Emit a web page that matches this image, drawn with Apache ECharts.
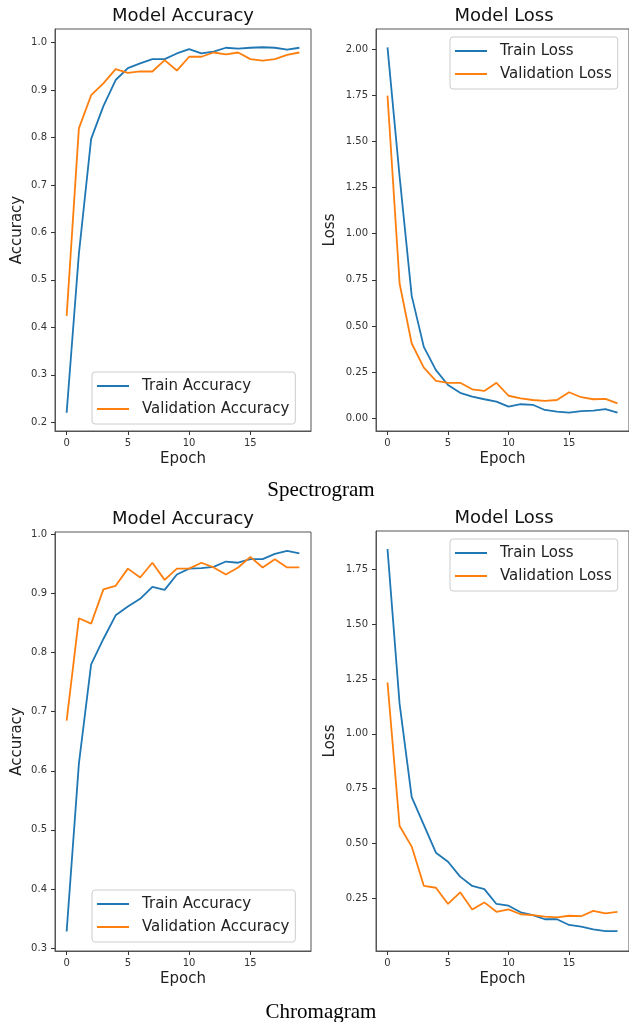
<!DOCTYPE html>
<html>
<head>
<meta charset="utf-8">
<script src="https://cdn.jsdelivr.net/npm/echarts@6/dist/echarts.min.js"></script>
<style>
  html, body { margin: 0; padding: 0; background: #fff; }
  #main { width: 629px; height: 1022px; }
</style>
</head>
<body>
<div id="main"></div>
<script>
// epochs on the x axis
const epochs = [0, 1, 2, 3, 4, 5, 6, 7, 8, 9, 10, 11, 12, 13, 14, 15, 16, 17, 18, 19]

// Spectrogram
const specTrainAcc = [0.22, 0.555, 0.797, 0.866, 0.921, 0.946, 0.956, 0.965, 0.965, 0.977,
  0.986, 0.977, 0.981, 0.989, 0.987, 0.989, 0.990, 0.989, 0.985, 0.989]
const specValAcc = [0.424, 0.819, 0.889, 0.914, 0.944, 0.936, 0.939, 0.939, 0.963, 0.941,
  0.970, 0.970, 0.979, 0.975, 0.979, 0.965, 0.962, 0.965, 0.974, 0.979]
const specTrainLoss = [2.009, 1.31, 0.663, 0.387, 0.261, 0.18, 0.138, 0.117, 0.103, 0.09,
  0.063, 0.076, 0.073, 0.045, 0.036, 0.03, 0.039, 0.041, 0.05, 0.03]
const specValLoss = [1.748, 0.73, 0.405, 0.274, 0.203, 0.192, 0.192, 0.157, 0.148, 0.192,
  0.122, 0.108, 0.099, 0.094, 0.099, 0.141, 0.114, 0.103, 0.105, 0.081]

// Chromagram
const chromaTrainAcc = [0.328, 0.612, 0.780, 0.823, 0.863, 0.878, 0.891, 0.911, 0.906, 0.932,
  0.942, 0.943, 0.945, 0.954, 0.952, 0.958, 0.958, 0.967, 0.972, 0.968]
const chromaValAcc = [0.685, 0.858, 0.849, 0.907, 0.913, 0.942, 0.927, 0.952, 0.923, 0.942,
  0.942, 0.952, 0.944, 0.932, 0.944, 0.962, 0.944, 0.958, 0.944, 0.944]
const chromaTrainLoss = [1.845, 1.137, 0.711, 0.584, 0.457, 0.416, 0.348, 0.305, 0.291, 0.223,
  0.215, 0.185, 0.172, 0.153, 0.153, 0.127, 0.119, 0.107, 0.099, 0.099]
const chromaValLoss = [1.235, 0.579, 0.485, 0.306, 0.297, 0.223, 0.276, 0.198, 0.23, 0.187,
  0.198, 0.176, 0.172, 0.165, 0.162, 0.169, 0.167, 0.191, 0.18, 0.187]

// tick labels
const epochTicks = [0, 5, 10, 15]
const specAccTicks = [0.2, 0.3, 0.4, 0.5, 0.6, 0.7, 0.8, 0.9, 1.0]
const specLossTicks = [0, 0.25, 0.5, 0.75, 1.0, 1.25, 1.5, 1.75, 2.0]
const chromaAccTicks = [0.3, 0.4, 0.5, 0.6, 0.7, 0.8, 0.9, 1.0]
const chromaLossTicks = [0.25, 0.5, 0.75, 1.0, 1.25, 1.5, 1.75]

const BLUE = '#1f77b4'
const ORANGE = '#ff7f0e'
const FONT = 'DejaVu Sans'
const FRAME = '#555'

const panels = [
  { grid: { left: 55, top: 29, width: 256, height: 402 }, title: 'Model Accuracy', yName: 'Accuracy',
    yMin: 0.1815, yMax: 1.0285, yTicks: specAccTicks, dec: 1, nameGap: 30,
    names: ['Train Accuracy', 'Validation Accuracy'], train: specTrainAcc, val: specValAcc,
    legend: { left: 92, top: 372 } },
  { grid: { left: 376, top: 29, width: 256, height: 402 }, title: 'Model Loss', yName: 'Loss',
    yMin: -0.069, yMax: 2.109, yTicks: specLossTicks, dec: 2, nameGap: 38,
    names: ['Train Loss', 'Validation Loss'], train: specTrainLoss, val: specValLoss,
    legend: { left: 450, top: 37 } },
  { grid: { left: 55, top: 532, width: 256, height: 419 }, title: 'Model Accuracy', yName: 'Accuracy',
    yMin: 0.295, yMax: 1.004, yTicks: chromaAccTicks, dec: 1, nameGap: 30,
    names: ['Train Accuracy', 'Validation Accuracy'], train: chromaTrainAcc, val: chromaValAcc,
    legend: { left: 92, top: 890 } },
  { grid: { left: 376, top: 531, width: 256, height: 420 }, title: 'Model Loss', yName: 'Loss',
    yMin: 0.008, yMax: 1.927, yTicks: chromaLossTicks, dec: 2, nameGap: 38,
    names: ['Train Loss', 'Validation Loss'], train: chromaTrainLoss, val: chromaValLoss,
    legend: { left: 450, top: 539 } },
]

const toPairs = (vals) => epochs.map((e, i) => [e, vals[i]])

let myChart = echarts.init(document.getElementById('main'), null, { renderer: 'canvas' })

const option = {
  animation: false,
  backgroundColor: '#fff',
  grid: [],
  xAxis: [],
  yAxis: [],
  series: [],
  legend: [],
  graphic: []
}

panels.forEach((p, idx) => {
  option.grid.push({ ...p.grid, show: true, borderColor: FRAME, borderWidth: 1, containLabel: false })

  option.xAxis.push({
    type: 'value', gridIndex: idx, min: -0.95, max: 19.95,
    name: 'Epoch', nameLocation: 'middle', nameGap: 21,
    nameTextStyle: { fontFamily: FONT, fontSize: 15, color: '#222' },
    axisLine: { show: true, onZero: false, lineStyle: { color: FRAME } },
    axisTick: { show: true, inside: false, length: 4, customValues: epochTicks, lineStyle: { color: '#333' } },
    axisLabel: { customValues: epochTicks, margin: 7, fontFamily: FONT, fontSize: 10, color: '#333' },
    splitLine: { show: false }
  })

  option.yAxis.push({
    type: 'value', gridIndex: idx, min: p.yMin, max: p.yMax,
    name: p.yName, nameLocation: 'middle', nameGap: p.nameGap,
    nameTextStyle: { fontFamily: FONT, fontSize: 15, color: '#222' },
    axisLine: { show: true, onZero: false, lineStyle: { color: FRAME } },
    axisTick: { show: true, inside: false, length: 4, customValues: p.yTicks, lineStyle: { color: '#333' } },
    axisLabel: {
      customValues: p.yTicks, margin: 8, fontFamily: FONT, fontSize: 10, color: '#333',
      formatter: (v) => v.toFixed(p.dec)
    },
    splitLine: { show: false }
  })

  option.series.push(
    { type: 'line', name: p.names[0], xAxisIndex: idx, yAxisIndex: idx, data: toPairs(p.train),
      symbol: 'none', color: BLUE, lineStyle: { width: 1.8, color: BLUE } },
    { type: 'line', name: p.names[1], xAxisIndex: idx, yAxisIndex: idx, data: toPairs(p.val),
      symbol: 'none', color: ORANGE, lineStyle: { width: 1.8, color: ORANGE } }
  )

  option.legend.push({
    ...p.legend,
    orient: 'vertical',
    data: p.names,
    icon: 'rect', itemWidth: 32, itemHeight: 2, itemGap: 7,
    padding: [6, 6, 7, 5],
    backgroundColor: 'rgba(255,255,255,0.8)',
    borderColor: '#ccc', borderWidth: 1, borderRadius: 3,
    selectedMode: false,
    textStyle: { fontFamily: FONT, fontSize: 15, color: '#222', lineHeight: 16, padding: [0, 0, 0, 8] }
  })

  // panel title above the plot
  option.graphic.push({
    type: 'text', x: p.grid.left + p.grid.width / 2, y: p.grid.top - 13,
    style: { text: p.title, font: '18px "DejaVu Sans"', fill: '#111', textAlign: 'center', textVerticalAlign: 'middle' }
  })
})

// captions under each row
option.graphic.push(
  { type: 'text', x: 321, y: 490,
    style: { text: 'Spectrogram', font: '21px "Liberation Serif"', fill: '#000', textAlign: 'center', textVerticalAlign: 'middle' } },
  { type: 'text', x: 321, y: 1012,
    style: { text: 'Chromagram', font: '21px "Liberation Serif"', fill: '#000', textAlign: 'center', textVerticalAlign: 'middle' } }
)

myChart.setOption(option, true)

window.addEventListener('resize', () => {
  myChart.resize()
})
</script>
</body>
</html>
